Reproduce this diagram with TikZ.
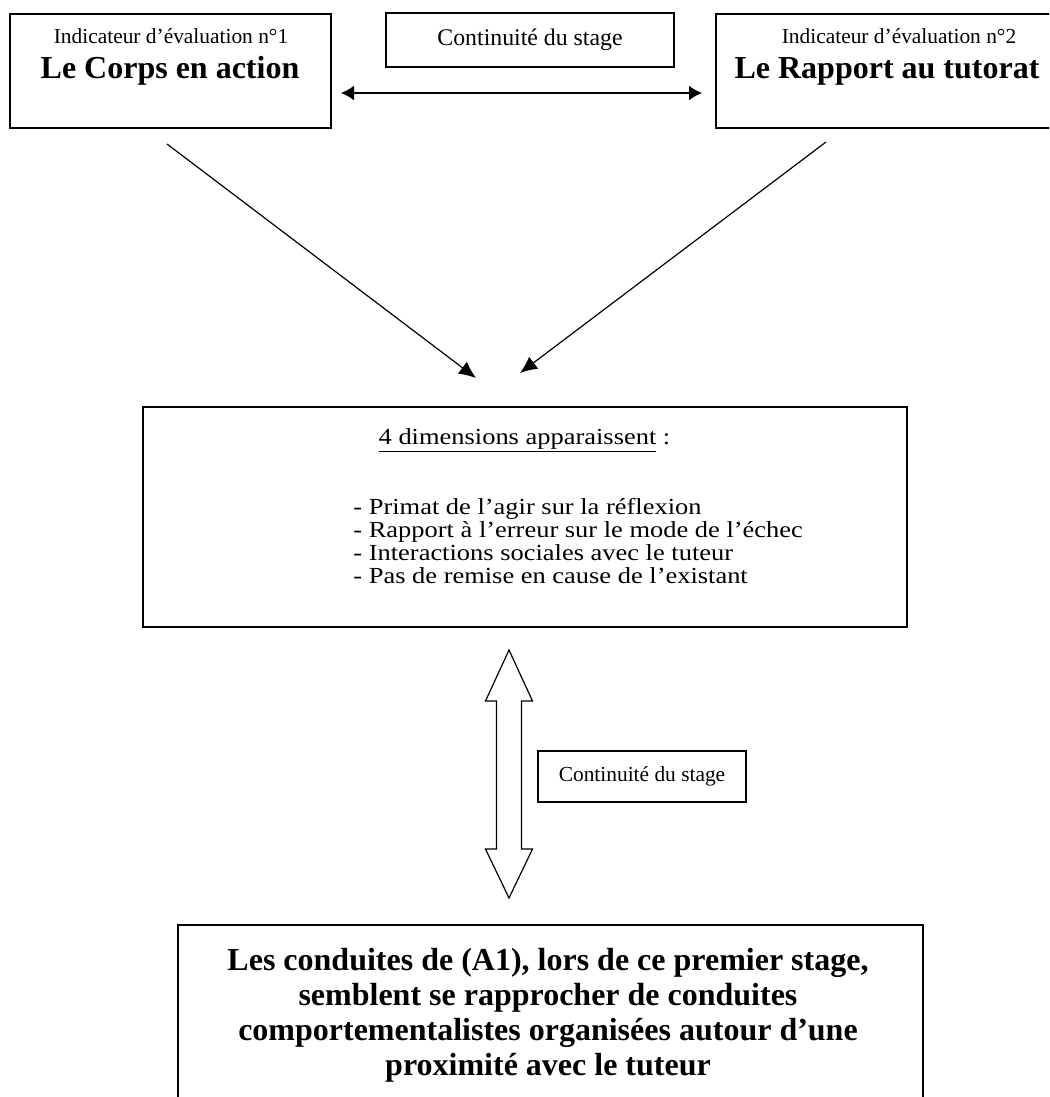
\documentclass[tikz,border=0pt]{standalone}
\usepackage{fontspec}
\setmainfont{Liberation Serif}
\newfontfamily\dimfont{Liberation Serif}[FakeStretch=1.15]
\usetikzlibrary{arrows.meta,positioning}

\begin{document}
\begin{tikzpicture}[x=0.5pt,y=-0.5pt,
	every node/.style={inner sep=0pt},
	boxstyle/.style={draw,line width=0.8pt},
	stagebox/.style={draw,line width=0.7pt,font=\fontsize{11.9}{13}\selectfont},
	linkarrow/.style={line width=0.6pt,-{Latex[length=8.5pt,width=7.5pt]}},
	stagearrow/.style={line width=0.8pt,{Latex[length=6.5pt,width=7.5pt]}-{Latex[length=6.5pt,width=7.5pt]}},
	hollowarrow/.style={line width=0.6pt,line join=miter,fill=white},
	indtext/.style={anchor=base,font=\fontsize{10.7}{12}\selectfont},
	titletext/.style={anchor=base,font=\fontsize{16}{18}\selectfont\bfseries},
	dimtext/.style={anchor=base west,font=\dimfont\fontsize{11.5}{13}\selectfont}]
	
	\useasboundingbox (0,0) rectangle (1049,1097);
	\clip (0,0) rectangle (1049,1097);
	
	% les deux indicateurs
	\node[boxstyle,minimum width=160.5pt,minimum height=57pt] (corps) at (170.5,71) {};
	\node[boxstyle,minimum width=173pt,minimum height=57pt] (rapport) at (889,71) {};
	\node[indtext] (ind1) at (171,44) {Indicateur d’évaluation n°1};
	\node[titletext] (corpstxt) at (170,79) {Le Corps en action};
	\node[indtext] (ind2) at (899,44) {Indicateur d’évaluation n°2};
	\node[titletext] (rapporttxt) at (887,79) {Le Rapport au tutorat};
	\node[stagebox,minimum width=144pt,minimum height=27pt] (stage1) at (530,40) {Continuité du stage};
	
	\coordinate (hl) at (341,93);
	\coordinate (hr) at (702,93);
	\draw[stagearrow] (hl) -- (hr);
	
	% vers les dimensions
	\coordinate (c1) at (167,144);
	\coordinate (c2) at (826,142);
	\coordinate (t1) at (476,378);
	\coordinate (t2) at (520,373);
	\draw[linkarrow] (c1) -- (t1);
	\draw[linkarrow] (c2) -- (t2);
	
	\node[boxstyle,line width=0.7pt,minimum width=382pt,minimum height=110pt] (dims) at (525,517) {};
	\node[dimtext,anchor=base] (dimtitle) at (524.5,444) {\underline{4 dimensions apparaissent}~:};
	\node[dimtext] (d1) at (353,514) {- Primat de l’agir sur la réflexion};
	\node[dimtext] (d2) at (353,537) {- Rapport à l’erreur sur le mode de l’échec};
	\node[dimtext] (d3) at (353,560) {- Interactions sociales avec le tuteur};
	\node[dimtext] (d4) at (353,583) {- Pas de remise en cause de l’existant};
	
	% fleche creuse
	\draw[hollowarrow] (509,650) -- (532.5,701) -- (521.5,701) -- (521.5,849) -- (532.5,849)
		-- (509,898) -- (485.5,849) -- (496.5,849) -- (496.5,701) -- (485.5,701) -- cycle;
	\node[stagebox,font=\fontsize{10.7}{12}\selectfont,minimum width=104pt,minimum height=25.5pt] (stage2) at (642,776.5) {Continuité du stage};
	
	% conclusion
	\node[boxstyle,minimum width=372.5pt,minimum height=102.5pt] (concl) at (550.5,1027.5) {};
	\node[titletext] (l1) at (548,970) {Les conduites de (A1), lors de ce premier stage,};
	\node[titletext] (l2) at (548,1005) {semblent se rapprocher de conduites};
	\node[titletext] (l3) at (548,1040) {comportementalistes organisées autour d’une};
	\node[titletext] (l4) at (548,1075) {proximité avec le tuteur};
	
\end{tikzpicture}
\end{document}
